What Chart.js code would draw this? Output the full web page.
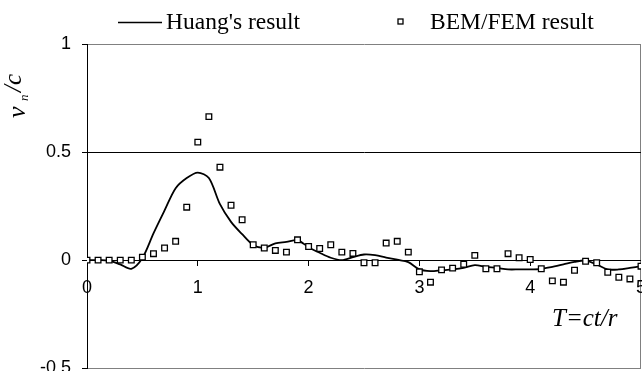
<!DOCTYPE html>
<html>
<head>
<meta charset="utf-8">
<script src="https://cdn.jsdelivr.net/npm/chart.js@4.4.1/dist/chart.umd.min.js"></script>
<style>
  html, body { margin: 0; padding: 0; background: #fff; overflow: hidden; }
  #wrap { width: 642px; height: 371px; overflow: hidden; }
</style>
</head>
<body>
<div id="wrap"><canvas id="chart" width="658" height="390"></canvas></div>
<script>
// time axis T = ct/r (both series sampled at the same steps)
const tValues = [
  0, 0.1, 0.2, 0.3, 0.4, 0.5, 0.6, 0.7, 0.8, 0.9,
  1.0, 1.1, 1.2, 1.3, 1.4, 1.5, 1.6, 1.7, 1.8, 1.9,
  2.0, 2.1, 2.2, 2.3, 2.4, 2.5, 2.6, 2.7, 2.8, 2.9,
  3.0, 3.1, 3.2, 3.3, 3.4, 3.5, 3.6, 3.7, 3.8, 3.9,
  4.0, 4.1, 4.2, 4.3, 4.4, 4.5, 4.6, 4.7, 4.8, 4.9, 5.0
];

// Huang's result (solid line)
const huangValues = [
  0, 0, -0.002, -0.02, -0.04, 0.01, 0.124, 0.23, 0.333, 0.38,
  0.405, 0.38, 0.259, 0.177, 0.12, 0.07, 0.057, 0.078, 0.084, 0.092,
  0.06, 0.034, 0.011, 0, 0.014, 0.026, 0.023, 0.012, 0.002, -0.009,
  -0.043, -0.051, -0.047, -0.043, -0.036, -0.023, -0.031, -0.036, -0.043, -0.043,
  -0.043, -0.04, -0.031, -0.02, -0.008, -0.002, -0.02, -0.043, -0.043, -0.036, -0.028
];

// BEM/FEM result (open squares)
const bemValues = [
  0, 0, 0, 0, 0, 0.014, 0.03, 0.056, 0.087, 0.245,
  0.546, 0.664, 0.43, 0.254, 0.187, 0.071, 0.056, 0.045, 0.037, 0.094,
  0.063, 0.054, 0.071, 0.037, 0.031, -0.012, -0.012, 0.079, 0.087, 0.037,
  -0.054, -0.102, -0.045, -0.037, -0.019, 0.022, -0.04, -0.04, 0.03, 0.011,
  0.003, -0.04, -0.096, -0.102, -0.047, -0.005, -0.012, -0.056, -0.079, -0.087, -0.028
];

const xTicks = [0, 1, 2, 3, 4, 5];
const yTicks = [-0.5, 0, 0.5, 1];

const BORDER_GREY = "#808080";
const near = (a, b) => Math.abs(a - b) < 1e-9;

// legend + axis titles drawn on top
const extraText = {
  id: "extraText",
  afterDraw(chart) {
    const c = chart.ctx;
    c.save();
    c.fillStyle = "#000";
    c.strokeStyle = "#000";

    // legend
    c.lineWidth = 1.5;
    c.beginPath(); c.moveTo(118, 22.5); c.lineTo(162, 22.5); c.stroke();
    c.font = '23.5px "Liberation Serif"';
    c.textAlign = "left";
    c.textBaseline = "alphabetic";
    c.fillText("Huang's result", 166, 29);
    c.lineWidth = 1.3;
    c.strokeRect(398, 19, 5, 5);
    c.fillText("BEM/FEM result", 430, 29);

    // x title
    c.font = 'italic 25px "Liberation Serif"';
    c.fillText("T=ct/r", 552, 326);

    // y title (rotated)
    c.translate(25, 118);
    c.rotate(-Math.PI / 2);
    c.font = 'italic 26px "Liberation Serif"';
    c.fillText("v", 0, 0);
    c.font = 'italic 13px "Liberation Serif"';
    c.fillText("n", 17, 3);
    c.font = 'italic 25px "Liberation Serif"';
    c.fillText("/c", 26, -4);
    c.restore();
  }
};

const ctx = document.getElementById("chart").getContext("2d");
new Chart(ctx, {
  type: "scatter",
  data: {
    datasets: [
      {
        label: "BEM/FEM result",
        data: tValues.map((t, i) => ({ x: t, y: bemValues[i] })),
        pointStyle: "rect",
        pointRadius: 4,
        borderWidth: 1.3,
        borderColor: "#000",
        backgroundColor: "#fff",
        showLine: false,
        order: 0
      },
      {
        type: "line",
        label: "Huang's result",
        data: tValues.map((t, i) => ({ x: t, y: huangValues[i] })),
        borderColor: "#000",
        borderWidth: 1.8,
        pointRadius: 0,
        tension: 0.3,
        fill: false,
        order: 1
      }
    ]
  },
  options: {
    responsive: false,
    animation: false,
    devicePixelRatio: 1,
    layout: { padding: { left: 0, top: 44, right: 7, bottom: 2 } },
    plugins: { legend: { display: false }, tooltip: { enabled: false } },
    scales: {
      x: {
        type: "linear",
        position: { y: 0 },
        min: xTicks[0],
        max: xTicks[xTicks.length - 1],
        afterBuildTicks: (s) => { s.ticks = xTicks.map(v => ({ value: v })); },
        ticks: { color: "#000", font: { family: "Liberation Sans", size: 18 }, padding: 12, maxRotation: 0, callback: (v) => String(v) },
        grid: {
          drawOnChartArea: true,
          color: (c) => (c.tick && near(c.tick.value, 5) ? BORDER_GREY : "rgba(0,0,0,0)"),
          tickColor: (c) => (c.tick && near(c.tick.value, 5) ? BORDER_GREY : "#000"),
          tickLength: 5,
          lineWidth: 1
        },
        border: { display: true, color: "#000", width: 1 }
      },
      y: {
        min: yTicks[0],
        max: yTicks[yTicks.length - 1],
        afterFit: (s) => { s.width = 87; },
        afterBuildTicks: (s) => { s.ticks = yTicks.map(v => ({ value: v })); },
        ticks: { color: "#000", font: { family: "Liberation Sans", size: 18 }, padding: 11, callback: (v) => String(v) },
        grid: {
          color: (c) => (c.tick && (near(c.tick.value, 1) || near(c.tick.value, -0.5)) ? BORDER_GREY : "#000"),
          tickColor: "#000",
          tickLength: 5,
          lineWidth: 1
        },
        border: { display: true, color: "#000", width: 1 }
      }
    }
  },
  plugins: [extraText]
});
</script>
</body>
</html>
